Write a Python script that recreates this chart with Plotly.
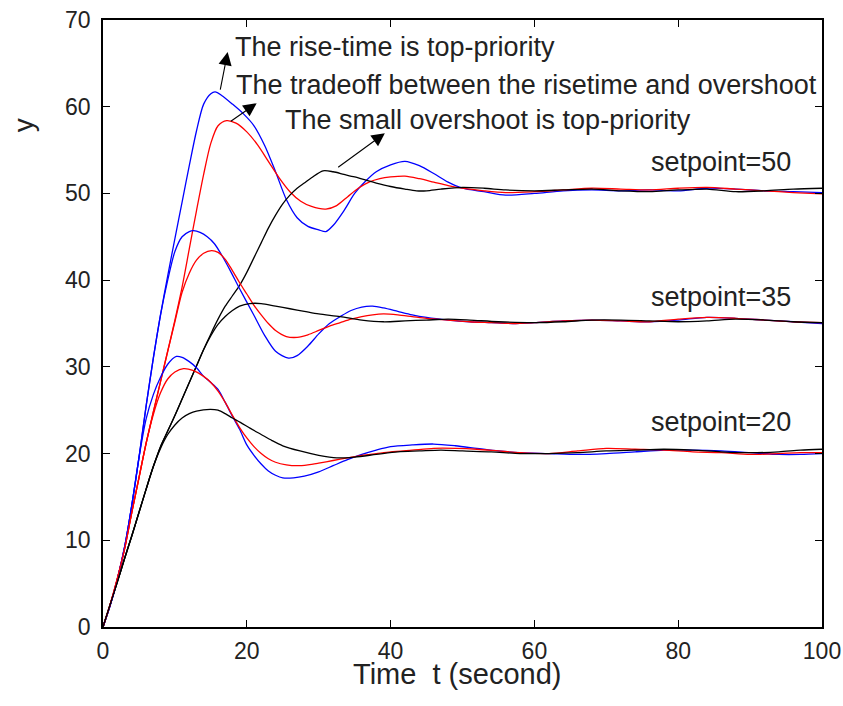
import plotly.graph_objects as go

# ---------------- data ----------------
# setpoint = 50
t_b50 = [0, 1, 2, 3, 4, 5, 6, 7, 8, 9, 10, 11, 12, 13, 14, 15, 15.6, 16.5, 18, 19.5, 21, 22.5, 24, 25.5,
         27, 28.5, 30, 31, 32, 33.5, 35, 36.5, 38, 40, 42, 44, 46, 48, 50, 53, 56, 60, 64, 68, 72, 76,
         80, 84, 88, 92, 96, 100]
y_b50 = [0, 2.5, 5.5, 9.2, 14, 19.5, 25.5, 31, 36, 40.5, 44.8, 49, 53.2, 57.2, 60.3, 61.5, 61.7, 61.3, 60.3,
         59.2, 57.8, 55.5, 52.5, 49.3, 47.2, 46.2, 45.8, 45.6, 46.3, 48, 50, 51.4, 52.5, 53.3, 53.7, 53.2,
         52.3, 51.3, 50.6, 50.2, 49.8, 50.0, 50.3, 50.4, 50.3, 50.4, 50.3, 50.6, 50.5, 50.3, 50.2, 50.1]

t_r50 = [0, 1, 2, 3, 4, 5, 6, 7, 8, 9, 10, 11, 12, 13, 14, 15, 16, 17.2, 18.5, 20, 21.5, 23, 24.5, 26, 27.5,
         29, 31, 32.5, 34, 35.5, 37, 38.5, 40, 42, 44, 46, 48, 50, 53, 56, 60, 64, 68, 72, 76, 80, 84, 88,
         92, 96, 100]
y_r50 = [0, 2.6, 5.6, 9.0, 13.2, 17.2, 21.2, 24.8, 28.3, 31.8, 35.4, 39.2, 43.6, 48.0, 52.2, 55.8, 57.8,
         58.4, 58.1, 57.1, 55.6, 53.7, 51.8, 50.2, 49.1, 48.5, 48.2, 48.6, 49.6, 50.6, 51.3, 51.7, 51.9,
         52.0, 51.7, 51.3, 50.9, 50.6, 50.3, 50.1, 50.2, 50.4, 50.6, 50.5, 50.4, 50.6, 50.7, 50.5, 50.3,
         50.1, 49.95]

t_k50 = [0, 1, 2, 3, 4, 5, 6, 7, 8, 9, 10, 11, 12, 13, 14, 15, 16, 17, 18, 19, 20, 21, 22, 23, 24, 25, 26,
         27, 28, 29, 30.6, 32, 33.5, 35, 36.7, 38, 40, 42, 43.6, 45, 47, 50, 53, 56, 60, 64, 68, 72, 76,
         80, 84, 88, 92, 96, 100]
y_k50 = [0, 2.6, 5.2, 7.9, 10.5, 13.2, 15.9, 18.5, 20.8, 22.6, 24.4, 26.3, 28.2, 30.1, 32.0, 33.8, 35.5,
         37.0, 38.2, 39.4, 40.9, 42.6, 44.3, 46.0, 47.5, 48.8, 49.8, 50.6, 51.2, 51.8, 52.6, 52.5, 52.2,
         51.9, 51.5, 51.2, 50.8, 50.5, 50.3, 50.3, 50.5, 50.7, 50.6, 50.4, 50.3, 50.4, 50.5, 50.3, 50.2,
         50.4, 50.5, 50.2, 50.3, 50.5, 50.6]

# setpoint = 35
t_b35 = [0, 1, 2, 3, 4, 5, 6, 7, 8, 9, 10, 11, 12, 12.6, 13.5, 14.5, 15.5, 16.5, 17.7, 19, 20.9, 22.5, 24,
         25.8, 27, 28.5, 30, 31.5, 33, 34.5, 36, 37.5, 39, 41, 43, 45, 48, 51, 54, 57, 60, 64, 68, 72, 76,
         80, 84, 88, 92, 96, 100]
y_b35 = [0, 2.5, 5.5, 9.2, 14, 19.5, 25.5, 31, 36, 40, 43.3, 45, 45.6, 45.7, 45.5, 45.0, 44.2, 42.9, 41.1,
         39, 36.1, 33.6, 31.8, 31.0, 31.3, 32.4, 33.8, 35.0, 35.8, 36.5, 36.9, 37.0, 36.8, 36.4, 36.0, 35.7,
         35.4, 35.2, 35.1, 35.0, 35.1, 35.3, 35.4, 35.3, 35.2, 35.4, 35.7, 35.6, 35.4, 35.2, 35.0]

t_r35 = [0, 1, 2, 3, 4, 5, 6, 7, 8, 9, 10, 11, 12, 13, 14, 15.1, 16, 17, 18, 19, 20, 21, 22, 23, 24, 25.5,
         27, 28.5, 30, 31.5, 33, 34.5, 36, 37.5, 39, 41, 43, 45, 48, 51, 54, 57, 60, 64, 68, 72, 76, 80, 84,
         88, 92, 96, 100]
y_r35 = [0, 2.6, 5.6, 9.0, 13.2, 17.2, 21.2, 24.8, 28.3, 31.8, 35.2, 38.6, 40.8, 42.3, 43.1, 43.4, 43.2,
         42.4, 41.1, 39.7, 38.4, 37.1, 36.0, 35.0, 34.2, 33.5, 33.4, 33.7, 34.2, 34.7, 35.1, 35.5, 35.8,
         36.0, 36.1, 36.0, 35.8, 35.6, 35.4, 35.2, 35.1, 35.0, 35.1, 35.3, 35.4, 35.3, 35.2, 35.5, 35.7,
         35.6, 35.4, 35.2, 35.1]

t_k35 = [0, 1, 2, 3, 4, 5, 6, 7, 8, 9, 10, 11, 12, 13, 14, 15, 16, 17, 18, 19, 20.4, 22, 24, 26, 28, 30,
         33, 36, 39, 42, 45, 48, 51, 55, 60, 64, 68, 72, 76, 80, 84, 88, 92, 96, 100]
y_k35 = [0, 2.6, 5.2, 7.9, 10.5, 13.2, 15.9, 18.5, 20.8, 22.6, 24.4, 26.3, 28.2, 30.1, 32.0, 33.6, 34.9,
         35.8, 36.5, 37.0, 37.3, 37.3, 37.0, 36.7, 36.4, 36.1, 35.8, 35.4, 35.2, 35.3, 35.4, 35.5, 35.4,
         35.2, 35.1, 35.2, 35.4, 35.4, 35.3, 35.2, 35.3, 35.5, 35.4, 35.2, 35.1]

# setpoint = 20
t_b20 = [0, 1, 2, 3, 4, 5, 6, 7, 8, 9, 10.2, 11, 12, 13, 14, 15, 16, 17, 18, 19, 20, 21, 22, 23, 24, 25,
         26.5, 28, 30, 32, 34, 36, 38, 40, 43, 46, 49, 52, 55, 58, 62, 66, 70, 74, 78, 82, 86, 90, 94, 97, 100]
y_b20 = [0, 2.5, 5.5, 9.2, 14, 19.5, 24, 26.8, 28.8, 30.3, 31.2, 31.1, 30.6, 29.9, 28.9, 28.2, 27.4, 25.9,
         24.3, 22.8, 21.0, 19.8, 18.8, 18.0, 17.5, 17.2, 17.2, 17.4, 17.9, 18.6, 19.3, 19.9, 20.4, 20.8,
         21.0, 21.1, 20.9, 20.6, 20.3, 20.1, 20.0, 19.9, 20.0, 20.2, 20.4, 20.4, 20.3, 20.1, 19.9, 19.9, 20.0]

t_r20 = [0, 1, 2, 3, 4, 5, 6, 7, 8, 9, 10, 11.2, 12.5, 14, 15, 16, 17, 18, 19, 20, 21, 22, 23, 24, 25.5,
         27, 28.5, 30, 32, 34, 36, 38, 40, 43, 46, 49, 52, 55, 58, 62, 66, 70, 74, 78, 82, 86, 90, 94, 97, 100]
y_r20 = [0, 2.6, 5.6, 9.0, 13.2, 17.2, 21.2, 24.5, 27.0, 28.6, 29.4, 29.8, 29.6, 28.9, 28.2, 27.2, 25.9,
         24.4, 23.0, 21.8, 20.8, 20.0, 19.4, 19.0, 18.7, 18.6, 18.7, 18.9, 19.2, 19.5, 19.8, 20.0, 20.2,
         20.4, 20.6, 20.6, 20.5, 20.3, 20.1, 20.0, 20.3, 20.6, 20.5, 20.4, 20.2, 20.1, 19.9, 20.0, 20.1, 20.1]

t_k20 = [0, 1, 2, 3, 4, 5, 6, 7, 8, 9, 10, 11, 12, 13, 14.9, 16, 17, 18, 19.1, 20.5, 22, 23.5, 25, 27.4,
         30, 32.5, 35, 38, 41, 44, 47, 50, 54, 58, 62, 66, 70, 74, 78, 82, 86, 90, 94, 97, 100]
y_k20 = [0, 2.6, 5.2, 7.9, 10.5, 13.2, 15.9, 18.5, 20.6, 22.2, 23.3, 24.1, 24.6, 24.9, 25.1, 25.0, 24.6,
         24.1, 23.6, 22.9, 22.2, 21.5, 20.9, 20.3, 19.8, 19.5, 19.6, 19.9, 20.2, 20.3, 20.4, 20.3, 20.2,
         20.0, 20.0, 20.1, 20.3, 20.4, 20.5, 20.4, 20.2, 20.1, 20.2, 20.4, 20.5]

x_ticks = [0, 20, 40, 60, 80, 100]
y_ticks = [0, 10, 20, 30, 40, 50, 60, 70]

series = [
    (t_b50, y_b50, "blue"), (t_r50, y_r50, "red"), (t_k50, y_k50, "black"),
    (t_b35, y_b35, "blue"), (t_r35, y_r35, "red"), (t_k35, y_k35, "black"),
    (t_b20, y_b20, "blue"), (t_r20, y_r20, "red"), (t_k20, y_k20, "black"),
]

FONT = "Liberation Sans, Arial, sans-serif"
TXT = "#222"

fig = go.Figure()
for tt, yy, col in series:
    fig.add_trace(go.Scatter(x=tt, y=yy, mode="lines",
                             line=dict(color=col, width=1.3, shape="spline", smoothing=0.8),
                             showlegend=False, hoverinfo="skip"))

axis_common = dict(showline=True, linecolor="black", linewidth=1.5, mirror="ticks",
                   ticks="inside", ticklen=7, tickwidth=1.2, tickcolor="black",
                   showgrid=False, zeroline=False, automargin=False, ticklabeloverflow="allow",
                   tickfont=dict(family=FONT, size=23, color=TXT))

fig.update_xaxes(range=[0, 100], tickvals=x_ticks, ticktext=[str(v) for v in x_ticks],
                 ticklabelstandoff=3, **axis_common)
fig.update_yaxes(range=[0, 70], tickvals=y_ticks, ticktext=[str(v) for v in y_ticks],
                 ticklabelstandoff=6, **axis_common)

ann = []
# axis titles
ann.append(dict(x=0.493, y=-0.077, xref="paper", yref="paper", text="Time  t (second)",
                showarrow=False, xanchor="center", yanchor="middle",
                font=dict(family=FONT, size=29, color=TXT)))
ann.append(dict(x=-0.111, y=0.827, xref="paper", yref="paper", text="y", showarrow=False,
                textangle=-90, xanchor="center", yanchor="middle",
                font=dict(family=FONT, size=28, color=TXT)))
# setpoint labels
for txt, yv in [("setpoint=50", 53.6), ("setpoint=35", 38.0), ("setpoint=20", 23.6)]:
    ann.append(dict(x=75.9, y=yv, xref="x", yref="y", text=txt, showarrow=False,
                    xanchor="left", yanchor="middle", font=dict(family=FONT, size=27, color=TXT)))
# descriptive texts
for txt, xv, yv in [("The rise-time is top-priority", 18.1, 66.9),
                    ("The tradeoff between the risetime and overshoot", 18.2, 62.5),
                    ("The small overshoot is top-priority", 25.0, 58.5)]:
    ann.append(dict(x=xv, y=yv, xref="x", yref="y", text=txt, showarrow=False,
                    xanchor="left", yanchor="middle", font=dict(family=FONT, size=27, color=TXT)))
# arrows (head at x,y ; tail at ax,ay)
for hx, hy, tx, ty in [(17.34, 66.3, 16.27, 61.8),
                       (21.37, 60.4, 17.57, 58.2),
                       (39.2, 56.95, 32.5, 52.9)]:
    ann.append(dict(x=hx, y=hy, ax=tx, ay=ty, xref="x", yref="y", axref="x", ayref="y",
                    text="", showarrow=True, arrowhead=2, arrowsize=2.4, arrowwidth=1.1,
                    arrowcolor="black"))

fig.update_layout(width=843, height=706, margin=dict(l=103, r=21, t=20, b=79, autoexpand=False),
                  paper_bgcolor="white", plot_bgcolor="white", annotations=ann)

# remove the default 8px page margin so the 843x706 figure fills the window exactly
fig.write_html("out.html", config={"displayModeBar": False},
               post_script="document.body.style.margin='0';document.body.style.overflow='hidden';")
